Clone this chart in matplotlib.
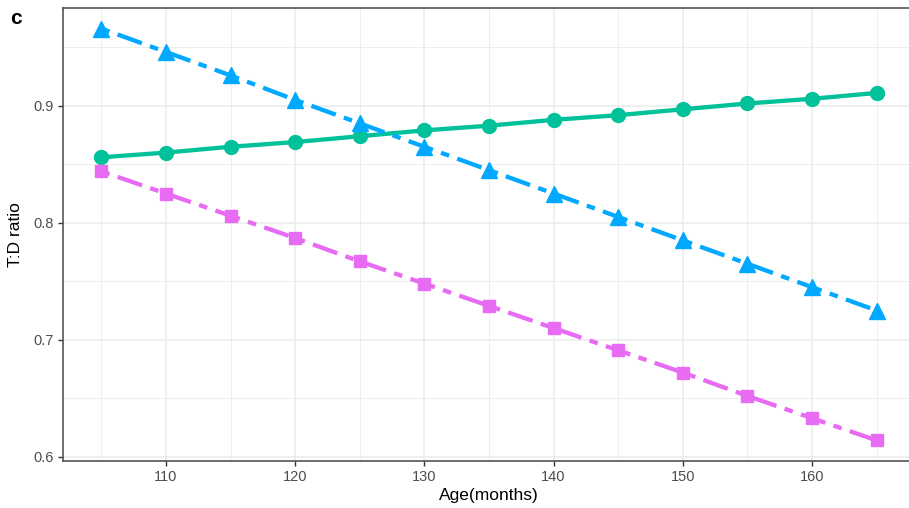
import matplotlib
matplotlib.use("Agg")
import matplotlib.pyplot as plt
import numpy as np

plt.rcParams['font.family'] = ['Liberation Sans', 'DejaVu Sans']

age = [105, 110, 115, 120, 125, 130, 135, 140, 145, 150, 155, 160, 165]
td_circle = [0.856, 0.860, 0.865, 0.869, 0.874, 0.879, 0.883, 0.888, 0.892, 0.897, 0.902, 0.906, 0.911]
td_triangle = [0.966, 0.946, 0.926, 0.905, 0.885, 0.865, 0.845, 0.825, 0.805, 0.785, 0.765, 0.745, 0.725]
td_square = [0.844, 0.825, 0.806, 0.787, 0.767, 0.748, 0.729, 0.710, 0.691, 0.672, 0.652, 0.633, 0.614]

green = '#00C19A'
blue = '#00A9FF'
pink = '#E76BF3'

fig = plt.figure(figsize=(9.09, 5.08), dpi=100)
ax = fig.add_axes([62.6 / 909, 47 / 508, (915.4 - 62.6) / 909, 453 / 508])

lw = 3.1
twodash = (0, (2, 2, 6, 2))
ax.plot(age, td_circle, color=green, lw=lw, ls='-', marker='o', ms=10, zorder=3)
ax.plot(age, td_triangle, color=blue, lw=lw, ls=twodash, marker='^', ms=11.5, zorder=3)
ax.plot(age, td_square, color=pink, lw=lw, ls=twodash, marker='s', ms=9, zorder=3)

# ggplot-like 5% expansion on both axes
allv = td_circle + td_triangle + td_square
lo, hi = min(allv), max(allv)
pad = (hi - lo) * 0.05
ax.set_ylim(lo - pad, hi + pad)
ax.set_xlim(102, 168)

ax.set_xticks([110, 120, 130, 140, 150, 160])
ax.set_yticks([0.6, 0.7, 0.8, 0.9])
ax.set_yticklabels(['0.6', '0.7', '0.8', '0.9'])
ax.set_xticks(np.arange(105, 170, 10), minor=True)
ax.set_yticks([0.65, 0.75, 0.85, 0.95], minor=True)
ax.grid(which='major', color='#EBEBEB', lw=1.1, zorder=0)
ax.grid(which='minor', color='#EBEBEB', lw=0.6, zorder=0)
ax.tick_params(which='minor', length=0)
ax.tick_params(which='major', length=3.5, width=1, color='#333333',
               labelcolor='#4D4D4D', labelsize=10.5, pad=3)
ax.set_axisbelow(True)
for s in ax.spines.values():
    s.set_color('#555555')
    s.set_linewidth(1.2)

ax.set_xlabel('Age(months)', fontsize=12.5, labelpad=3)
ax.set_ylabel('T:D ratio', fontsize=12.5, labelpad=7)
fig.text(10 / 909, 1 - 18 / 508, 'c', fontsize=15, fontweight='bold', va='center')

fig.savefig('out.png', dpi=100)
